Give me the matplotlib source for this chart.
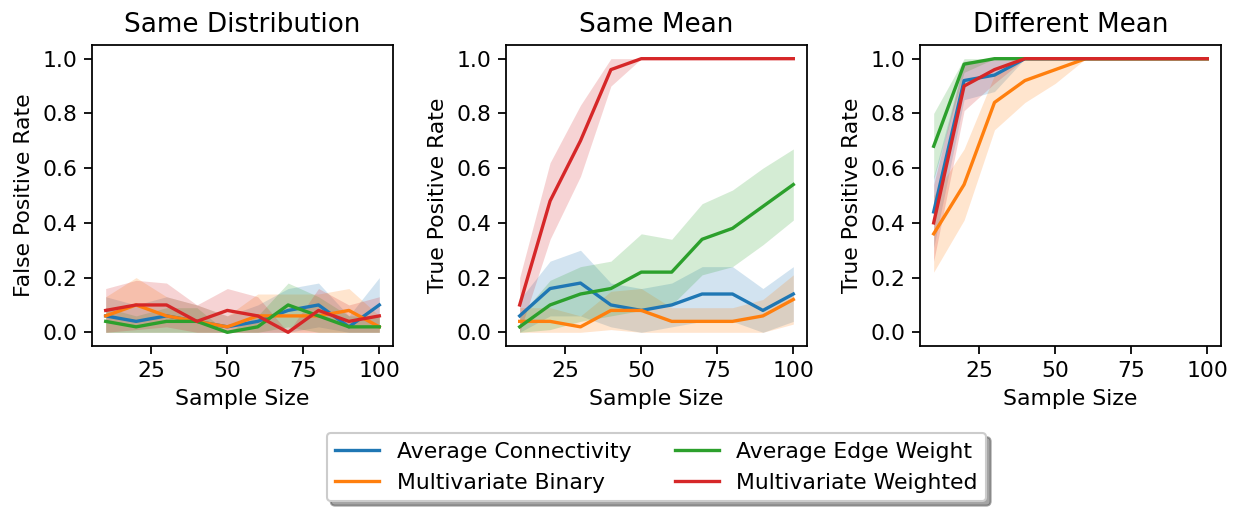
import numpy as np
import matplotlib
matplotlib.use("Agg")
import matplotlib.pyplot as plt

sample_sizes = [10, 20, 30, 40, 50, 60, 70, 80, 90, 100]
titles = ["Same Distribution", "Same Mean", "Different Mean"]
ylabels = ["False Positive Rate", "True Positive Rate", "True Positive Rate"]
series_names = ["Average Connectivity", "Multivariate Binary",
                "Average Edge Weight", "Multivariate Weighted"]
series_colors = ["#1f77b4", "#ff7f0e", "#2ca02c", "#d62728"]

# Panel 1: Same Distribution (means and band half-widths)
sd_conn = [0.06, 0.04, 0.06, 0.04, 0.02, 0.04, 0.08, 0.10, 0.02, 0.10]
sd_conn_err = [0.07, 0.06, 0.07, 0.06, 0.04, 0.06, 0.08, 0.08, 0.04, 0.10]
sd_bin = [0.06, 0.10, 0.06, 0.04, 0.02, 0.06, 0.06, 0.06, 0.08, 0.02]
sd_bin_err = [0.07, 0.10, 0.07, 0.06, 0.04, 0.08, 0.08, 0.08, 0.08, 0.04]
sd_edge = [0.04, 0.02, 0.04, 0.04, 0.00, 0.02, 0.10, 0.06, 0.02, 0.02]
sd_edge_err = [0.05, 0.04, 0.05, 0.05, 0.00, 0.04, 0.08, 0.07, 0.04, 0.04]
sd_wt = [0.08, 0.10, 0.10, 0.04, 0.08, 0.06, 0.00, 0.08, 0.04, 0.06]
sd_wt_err = [0.08, 0.09, 0.08, 0.06, 0.08, 0.07, 0.00, 0.08, 0.06, 0.07]

# Panel 2: Same Mean
sm_conn = [0.06, 0.16, 0.18, 0.10, 0.08, 0.10, 0.14, 0.14, 0.08, 0.14]
sm_conn_err = [0.06, 0.10, 0.12, 0.08, 0.08, 0.08, 0.10, 0.10, 0.08, 0.10]
sm_bin = [0.04, 0.04, 0.02, 0.08, 0.08, 0.04, 0.04, 0.04, 0.06, 0.12]
sm_bin_err = [0.05, 0.05, 0.04, 0.07, 0.08, 0.05, 0.05, 0.05, 0.06, 0.09]
sm_edge = [0.02, 0.10, 0.14, 0.16, 0.22, 0.22, 0.34, 0.38, 0.46, 0.54]
sm_edge_err = [0.04, 0.09, 0.10, 0.10, 0.14, 0.12, 0.13, 0.14, 0.14, 0.13]
sm_wt = [0.10, 0.48, 0.70, 0.96, 1.00, 1.00, 1.00, 1.00, 1.00, 1.00]
sm_wt_err = [0.10, 0.14, 0.13, 0.06, 0.00, 0.00, 0.00, 0.00, 0.00, 0.00]

# Panel 3: Different Mean
dm_conn = [0.44, 0.92, 0.94, 1.00, 1.00, 1.00, 1.00, 1.00, 1.00, 1.00]
dm_conn_err = [0.13, 0.07, 0.06, 0.00, 0.00, 0.00, 0.00, 0.00, 0.00, 0.00]
dm_bin = [0.36, 0.54, 0.84, 0.92, 0.96, 1.00, 1.00, 1.00, 1.00, 1.00]
dm_bin_err = [0.14, 0.13, 0.10, 0.08, 0.05, 0.00, 0.00, 0.00, 0.00, 0.00]
dm_edge = [0.68, 0.98, 1.00, 1.00, 1.00, 1.00, 1.00, 1.00, 1.00, 1.00]
dm_edge_err = [0.12, 0.03, 0.00, 0.00, 0.00, 0.00, 0.00, 0.00, 0.00, 0.00]
dm_wt = [0.40, 0.90, 0.96, 1.00, 1.00, 1.00, 1.00, 1.00, 1.00, 1.00]
dm_wt_err = [0.14, 0.09, 0.05, 0.00, 0.00, 0.00, 0.00, 0.00, 0.00, 0.00]

panels = [
    [(sd_conn, sd_conn_err), (sd_bin, sd_bin_err), (sd_edge, sd_edge_err), (sd_wt, sd_wt_err)],
    [(sm_conn, sm_conn_err), (sm_bin, sm_bin_err), (sm_edge, sm_edge_err), (sm_wt, sm_wt_err)],
    [(dm_conn, dm_conn_err), (dm_bin, dm_bin_err), (dm_edge, dm_edge_err), (dm_wt, dm_wt_err)],
]

FS = 10.5
plt.rcParams.update({
    "font.size": FS,
    "xtick.labelsize": FS,
    "ytick.labelsize": FS,
    "axes.linewidth": 0.85,
    "xtick.major.width": 0.85,
    "ytick.major.width": 0.85,
    "xtick.major.size": 3.7,
    "ytick.major.size": 3.7,
})

W, H = 1237, 507
fig = plt.figure(figsize=(W / 150, H / 150), dpi=150)
lefts = [92, 506, 920]
axes = []
for i, left in enumerate(lefts):
    ax = fig.add_axes([left / W, (H - 346) / H, 301 / W, 301 / H])
    axes.append(ax)
    x = np.array(sample_sizes)
    for (mean, err), name, color in zip(panels[i], series_names, series_colors):
        m = np.array(mean)
        e = np.array(err)
        lo = np.clip(m - e, 0, 1)
        hi = np.clip(m + e, 0, 1)
        ax.fill_between(x, lo, hi, color=color, alpha=0.2, linewidth=0)
        ax.plot(x, m, color=color, lw=1.6, label=name)
    ax.set_ylim(-0.05, 1.05)
    ax.set_xticks([25, 50, 75, 100])
    ax.set_yticks([0.0, 0.2, 0.4, 0.6, 0.8, 1.0])
    ax.set_title(titles[i], fontsize=12.6)
    ax.set_xlabel("Sample Size", fontsize=FS)
    ax.set_ylabel(ylabels[i], fontsize=FS)

axes[1].legend(loc="upper center", bbox_to_anchor=(0.5, -0.289), ncol=2,
               shadow=True, fancybox=True, fontsize=FS, columnspacing=2.0,
               borderaxespad=0.0)

fig.savefig("out.png", dpi=150)
